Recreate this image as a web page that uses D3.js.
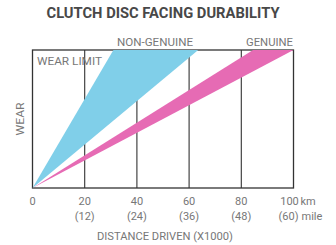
<!DOCTYPE html>
<html>
<head>
<meta charset="utf-8">
<script src="https://cdn.jsdelivr.net/npm/d3@7"></script>
<style>
  body { margin: 0; background: #fff; }
  text { font-family: "Liberation Sans Narrow", "Roboto", "Liberation Sans", sans-serif; }
</style>
</head>
<body>
<svg id="chart"></svg>
<script>
// distance in 1000 km, wear as fraction of wear limit
var kmTicks = [0, 20, 40, 60, 80, 100];
var mileLabels = ["", "(12)", "(24)", "(36)", "(48)", "(60)"];
var seriesNames = ["NON-GENUINE", "GENUINE"];
// distance (x1000 km) at which the wear limit is reached, fastest and slowest
var limitFast = [31, 84.5];
var limitSlow = [63.5, 100];
var seriesColors = ["#80cfe9", "#e66bb4"];

var w = 336, h = 245;
var svg = d3.select("#chart").attr("width", w).attr("height", h);

var x = d3.scaleLinear().domain([0, 100]).range([32.5, 293.5]);
var y = d3.scaleLinear().domain([0, 1]).range([188, 50]);

var ink = "#333";
var grey = "#777";

// title
svg.append("text")
  .attr("x", 163).attr("y", 18)
  .attr("text-anchor", "middle")
  .attr("font-size", 14).attr("font-weight", "bold")
  .attr("fill", "#484848")
  .attr("textLength", 233).attr("lengthAdjust", "spacingAndGlyphs")
  .text("CLUTCH DISC FACING DURABILITY");

// vertical grid lines
svg.selectAll("line.grid")
  .data(kmTicks.slice(1, -1))
  .enter().append("line")
  .attr("class", "grid")
  .attr("x1", function(d) { return x(d) }).attr("x2", function(d) { return x(d) })
  .attr("y1", y(1)).attr("y2", y(0))
  .attr("stroke", ink).attr("stroke-width", 1.1);

// frame
svg.append("rect")
  .attr("x", x(0)).attr("y", y(1))
  .attr("width", x(100) - x(0)).attr("height", y(0) - y(1))
  .attr("fill", "none").attr("stroke", ink).attr("stroke-width", 1.3);

// wear bands
var line = d3.line().x(function(d) { return x(d[0]) }).y(function(d) { return y(d[1]) });
svg.selectAll("path.band")
  .data(seriesNames)
  .enter().append("path")
  .attr("class", "band")
  .attr("d", function(d, i) {
    return line([[0, 0], [limitFast[i], 1], [limitSlow[i], 1]]) + "Z";
  })
  .attr("fill", function(d, i) { return seriesColors[i] });

// series labels
var labelX = [155, 269.5];
svg.selectAll("text.series")
  .data(seriesNames)
  .enter().append("text")
  .attr("class", "series")
  .attr("x", function(d, i) { return labelX[i] })
  .attr("y", 46)
  .attr("text-anchor", "middle")
  .attr("font-size", 11).attr("fill", grey)
  .attr("textLength", function(d, i) { return i == 0 ? 76 : 47 })
  .attr("lengthAdjust", "spacingAndGlyphs")
  .text(function(d) { return d });

svg.append("text")
  .attr("x", 37).attr("y", 65)
  .attr("font-size", 11).attr("fill", grey)
  .attr("textLength", 65).attr("lengthAdjust", "spacingAndGlyphs")
  .text("WEAR LIMIT");

// y label
svg.append("text")
  .attr("transform", "translate(24," + y(0.5) + ") rotate(-90)")
  .attr("text-anchor", "middle")
  .attr("font-size", 11).attr("fill", grey)
  .attr("textLength", 33).attr("lengthAdjust", "spacingAndGlyphs")
  .text("WEAR");

// x tick labels
var ticks = svg.selectAll("g.tick")
  .data(kmTicks)
  .enter().append("g")
  .attr("class", "tick")
  .attr("transform", function(d) { return "translate(" + x(d) + ",0)" });

ticks.append("text")
  .attr("x", function(d) { return d == 100 ? -4 : 0 })
  .attr("y", 205)
  .attr("text-anchor", "middle")
  .attr("font-size", 11).attr("fill", grey)
  .text(function(d) { return d });

ticks.append("text")
  .attr("x", function(d) { return d == 100 ? -5 : 0 })
  .attr("y", 220)
  .attr("text-anchor", "middle")
  .attr("font-size", 11).attr("fill", grey)
  .text(function(d, i) { return mileLabels[i] });

svg.append("text")
  .attr("x", x(100) + 7).attr("y", 205)
  .attr("font-size", 11).attr("fill", grey)
  .text("km");
svg.append("text")
  .attr("x", x(100) + 8).attr("y", 220)
  .attr("font-size", 11).attr("fill", grey)
  .text("mile");

// x title
svg.append("text")
  .attr("x", 165).attr("y", 240)
  .attr("text-anchor", "middle")
  .attr("font-size", 10.5).attr("fill", grey)
  .attr("textLength", 136).attr("lengthAdjust", "spacingAndGlyphs")
  .text("DISTANCE DRIVEN (X1000)");
</script>
</body>
</html>
